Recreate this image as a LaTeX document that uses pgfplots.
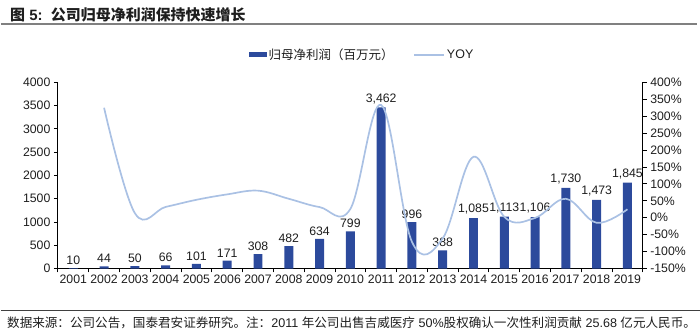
\documentclass[border=0pt]{standalone}
\usepackage{pgfplots}
\pgfplotsset{compat=1.18}
\usepackage{fontspec}
\setmainfont{Liberation Sans}
\newfontfamily\cjk{Noto Sans CJK SC}
\definecolor{barblue}{RGB}{44,74,156}
\definecolor{lineblue}{RGB}{170,193,228}
\definecolor{txt}{RGB}{30,30,30}
\begin{document}
\begin{tikzpicture}[x=1pt,y=1pt]
\path (0,0) rectangle (700,335);
\node[anchor=west, inner sep=0pt, text=txt, font=\fontsize{15}{17}\selectfont\bfseries] at (9,320) {{\cjk 图} 5:\ \ {\cjk\bfseries 公司归母净利润保持快速增长}};
\draw[line width=2pt, color=black!50] (0,310.5) -- (697,310.5);
\draw[line width=0.6pt, color=black!75] (0,24) -- (700,24);
\node[anchor=west, inner sep=0pt, text=txt, font=\fontsize{12.6}{14}\selectfont] at (6,11.5) {{\cjk 数据来源：公司公告，国泰君安证券研究。注：}2011 {\cjk 年公司出售吉威医疗} 50\%{\cjk 股权确认一次性利润贡献} 25.68 {\cjk 亿元人民币。}};

\begin{axis}[at={(57pt,66pt)}, anchor=south west, scale only axis,
  width=586pt, height=186.5pt,
  xmin=-0.5, xmax=18.5, ymin=0, ymax=4000,
  ytick={0,500,...,4000},
  axis x line*=bottom, axis y line*=left,
  xtick={0,...,18},
  xticklabels={2001,2002,2003,2004,2005,2006,2007,2008,2009,2010,2011,2012,2013,2014,2015,2016,2017,2018,2019},
  major x tick style={draw=none},
  minor xtick={-0.5,0.5,...,18.5},
  tick align=outside,
  major tick length=4pt, minor tick length=4pt,
  tick style={black, line width=0.8pt},
  axis line style={black, line width=0.9pt},
  ticklabel style={font=\fontsize{12.3}{14}\selectfont, text=txt},
  xticklabel style={yshift=1pt},
  /pgf/number format/assume math mode=true,
  scaled y ticks=false,
  yticklabel style={/pgf/number format/1000 sep={}},
  legend style={at={(0.52,1.147)}, anchor=center, draw=none, fill=none,
    font=\fontsize{12.5}{14}\selectfont, text=txt,
    /tikz/every even column/.append style={column sep=18pt}},
  legend columns=2,
]
\addplot[ybar, bar width=9pt, fill=barblue, draw=none,
  nodes near coords,
  every node near coord/.append style={font=\fontsize{12.3}{14}\selectfont, text=txt, /pgf/number format/1000 sep={,}, /pgf/number format/assume math mode=true},
  legend image code/.code={\fill[barblue] (0pt,-2.5pt) rectangle (18pt,2.5pt);}]
coordinates {(0,10) (1,44) (2,50) (3,66) (4,101) (5,171) (6,308) (7,482) (8,634) (9,799) (10,3462) (11,996) (12,388) (13,1085) (14,1113) (15,1106) (16,1730) (17,1473) (18,1845)};
\addlegendentry{\cjk 归母净利润（百万元）}
\addlegendimage{legend image code/.code={\draw[lineblue, line width=1.6pt] (0pt,0pt) -- (30pt,0pt);}}
\addlegendentry{YOY}
\end{axis}

\begin{axis}[at={(57pt,66pt)}, anchor=south west, scale only axis,
  width=586pt, height=186.5pt,
  xmin=-0.5, xmax=18.5, ymin=-150, ymax=400,
  ytick={-150,-100,...,400},
  axis y line*=right, axis x line=none,
  tick align=outside,
  major tick length=4pt,
  tick style={black, line width=0.8pt},
  axis line style={black, line width=0.9pt},
  ticklabel style={font=\fontsize{12.3}{14}\selectfont, text=txt},
  /pgf/number format/assume math mode=true,
  yticklabel={\pgfmathprintnumber{\tick}\%},
]
\addplot[lineblue, line width=1.7pt, smooth, tension=0.62, no marks]
coordinates {(1,325) (2,13.6) (3,32) (4,53) (5,69) (6,80) (7,56) (8,31.5) (9,26) (10,333) (11,-71) (12,-61) (13,180) (14,2.6) (15,-0.6) (16,56) (17,-15) (18,25)};
\end{axis}
\end{tikzpicture}
\end{document}
